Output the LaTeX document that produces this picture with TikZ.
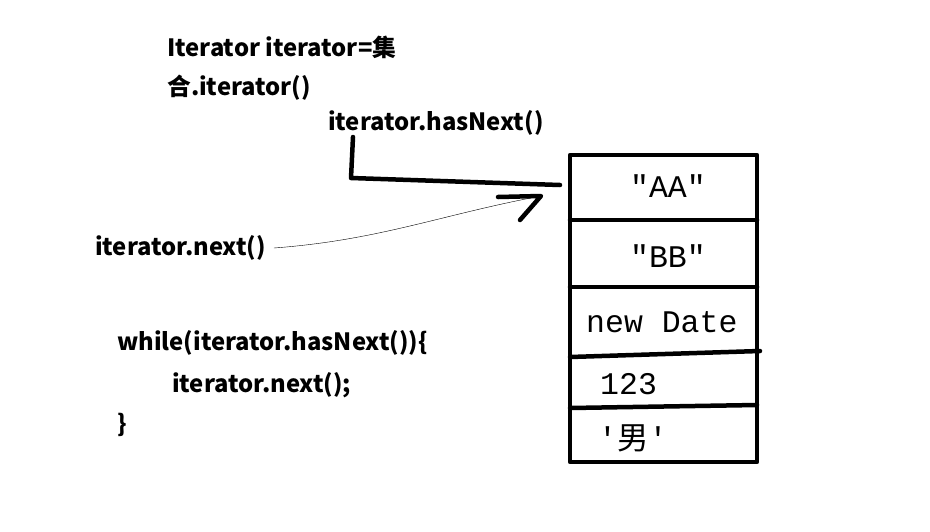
\documentclass[tikz,border=0pt]{standalone}
\usepackage{fontspec}
\newfontfamily\labelfont{Noto Sans CJK SC}
\newfontfamily\cellfont{Liberation Mono}
\newfontfamily\cjk{Noto Sans CJK SC}
\begin{document}
\begin{tikzpicture}[x=1pt, y=-1pt, line join = round, line cap = round,
  code/.style={anchor=west, inner sep=0pt, font=\labelfont\bfseries\fontsize{23.8}{24}\selectfont},
  cell/.style={inner sep=0pt, font=\cellfont\fontsize{31.5}{32}\selectfont},
  thick pen/.style={line width=4.5}]
\useasboundingbox (0,0) rectangle (930,531);

% code texts
\node[code] (decl) at (167,47) {Iterator iterator=集};
\node[code] (decl2) at (167,88) {合.iterator()};
\node[code] (hasnext) at (328,123) {iterator.hasNext()};
\node[code] (next) at (95,248) {iterator.next()};
\node[code] (loop) at (117,343) {while(iterator.hasNext())\{};
\node[code] (body) at (172,385) {iterator.next();};
\node[code] (close) at (117,425) {\}};

% the collection
\draw[thick pen] (570,155) rectangle (757,462);
\draw[thick pen] (570,220)--(757,220);
\draw[thick pen] (570,287)--(757,287);
\draw[thick pen] (570,357)--(760,351);
\draw[thick pen] (570,408)--(757,405);
\node[cell] (aa) at (668,186) {"AA"};
\node[cell] (bb) at (668,256) {"BB"};
\node[cell, anchor=west] (date) at (586,322) {new Date};
\node[cell, anchor=west] (num) at (600,384) {123};
\node[cell, anchor=west] (sex) at (598,438) {'{\cjk 男}'};

% cursor
\coordinate (up) at (353,137);
\coordinate (corner) at (351,178);
\coordinate (first) at (560,185);
\draw[thick pen] (up)--(corner)--(first);

% next() arrow
\coordinate (tip) at (541,196);
\draw[thin] (next.east) ++(8,0) .. controls (380,240) and (440,215) .. (tip);
\draw[thick pen] (498,197)--(tip)--(520,220);
\end{tikzpicture}
\end{document}
